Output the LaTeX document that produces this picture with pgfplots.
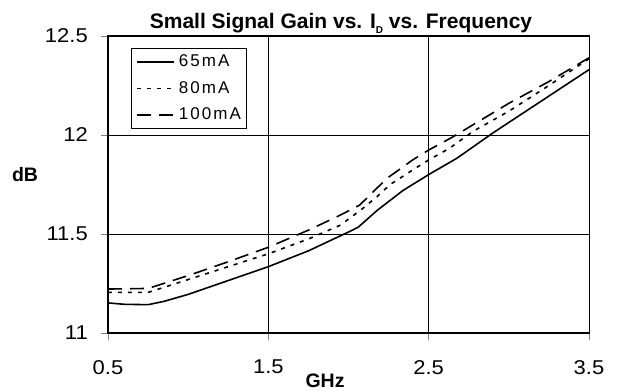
\documentclass[border=0pt]{standalone}
\usepackage{fontspec}
\setmainfont{Liberation Sans}
\newfontfamily\tickfont[FakeStretch=1.1]{Liberation Sans}
\newfontfamily\legfont[LetterSpace=12]{Liberation Sans}
\usepackage{pgfplots}
\pgfplotsset{compat=1.18}
\begin{document}
\begin{tikzpicture}
\useasboundingbox (-108bp,-58bp) rectangle (510bp,333bp);
\begin{axis}[
 at={(0,0)}, anchor=south west, scale only axis, width=481bp, height=297bp,
 xmin=0.5, xmax=3.5, ymin=11, ymax=12.5,
 xtick={0.5,1.5,2.5,3.5}, xticklabels={0.5,1.5,2.5,3.5},
 ytick={11,11.5,12,12.5}, yticklabels={11,11.5,12,12.5},
 xtick pos=left, ytick pos=left, tick align=outside, major tick length=7bp,
 tick style={gray, line width=0.8bp},
 grid=major, major grid style={black, line width=0.7bp},
 axis line style={black, line width=1bp},
 tick label style={font=\fontsize{20bp}{24bp}\tickfont, inner sep=0pt},
 xticklabel shift=20bp, yticklabel shift=13bp,
 /pgf/number format/assume math mode=true,
 legend style={at={(0.0478,0.9596)}, anchor=north west, draw=black, line width=0.8bp, fill=white,
   inner xsep=5bp, inner ysep=6.5bp, font=\fontsize{17bp}{20bp}\legfont, row sep=12.5bp,
   nodes={inner sep=0pt, text height=12bp, text depth=2bp},
   /tikz/every odd column/.append style={column sep=4bp}},
 legend cell align=left,
 legend image code/.code={\draw[#1] (0bp,0bp) -- (37bp,0bp);},
 after end axis/.code={\draw[black, line width=2bp] (rel axis cs:0,1) -- (rel axis cs:0,0) -- (rel axis cs:1,0);},
]
\addplot[black, line width=1.6bp] coordinates {
(0.5,11.152) (0.6,11.145) (0.75,11.143) (0.85,11.160) (1.0,11.195) (1.25,11.265)
(1.5,11.335) (1.75,11.415) (2.0,11.510) (2.06,11.534) (2.18,11.620) (2.34,11.720)
(2.5,11.800) (2.675,11.882) (2.9,12.010) (3.2,12.170) (3.5,12.330)};
\addlegendentry{65mA}
\addplot[black, line width=1.6bp, dash pattern=on 4bp off 6bp] coordinates {
(0.5,11.205) (0.75,11.205) (1.0,11.270) (1.25,11.335) (1.5,11.400) (1.76,11.478)
(1.95,11.545) (2.09,11.630) (2.18,11.690) (2.26,11.750) (2.40,11.823) (2.5,11.874)
(2.63,11.933) (2.78,12.020) (3.0,12.120) (3.25,12.250) (3.5,12.385)};
\addlegendentry{80mA}
\addplot[black, line width=1.6bp, dash pattern=on 14bp off 8bp] coordinates {
(0.5,11.222) (0.75,11.225) (1.0,11.290) (1.25,11.360) (1.5,11.433) (1.76,11.523)
(1.95,11.596) (2.07,11.646) (2.155,11.714) (2.24,11.781) (2.40,11.874) (2.5,11.924)
(2.65,11.990) (3.0,12.160) (3.25,12.270) (3.5,12.390)};
\addlegendentry{100mA}
\end{axis}
\node[font=\fontsize{19.5bp}{23bp}\selectfont\bfseries] at (-83bp,158bp) {dB};
\node[font=\fontsize{19.5bp}{23bp}\selectfont\bfseries] at (217bp,-48bp) {GHz};
\node[font=\fontsize{21bp}{25bp}\selectfont\bfseries, anchor=base] at (233bp,304bp) {Small Signal Gain vs. I\raisebox{-0.45ex}{\fontsize{10bp}{12bp}\selectfont D} vs. Frequency};
\end{tikzpicture}
\end{document}
